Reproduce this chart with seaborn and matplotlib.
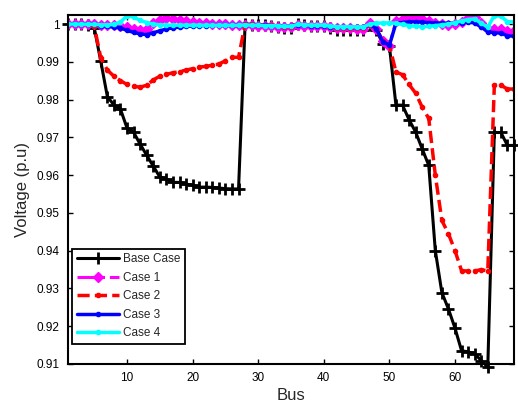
import numpy as np
import pandas as pd
import matplotlib
matplotlib.use("Agg")
import matplotlib.pyplot as plt
import seaborn as sns

# ---------------------------
# Data (bus voltages, p.u.)
# ---------------------------
bus = list(range(1, 70))

base_case = [
    1.0, 0.99997, 0.99993, 0.99984, 0.99902, 0.99009, 0.98079, 0.97858, 0.97745,
    0.97245, 0.97135, 0.96819, 0.96526, 0.96237, 0.95950, 0.95897, 0.95809, 0.95808,
    0.95761, 0.95732, 0.95683, 0.95683, 0.95676, 0.95659, 0.95642, 0.95635, 0.95633,
    0.99993, 0.99985, 0.99973, 0.99971, 0.99961, 0.99935, 0.99901, 0.99895,
    0.99992, 0.99975, 0.99959, 0.99954, 0.99954, 0.99884, 0.99855, 0.99851, 0.99850,
    0.99841, 0.99840,
    0.99979, 0.99854, 0.99470, 0.99415,
    0.97854, 0.97853, 0.97466, 0.97142, 0.96695, 0.96258,
    0.94003, 0.92891, 0.92458, 0.91950, 0.91353, 0.91319, 0.91275, 0.91089, 0.90919,
    0.97129, 0.97129, 0.96786, 0.96786,
]

case1 = [
    1.0, 1.0, 0.99998, 0.99995, 0.9999, 0.9998, 0.9997, 0.99965, 0.9996,
    0.9992, 0.9988, 0.9985, 0.9987,
    1.0003, 1.0012, 1.0015, 1.0013, 1.001, 1.0007, 1.0005,
    1.0003, 1.0002, 1.0001, 1.0, 0.9999, 0.9998, 0.9997,
    0.9998, 0.9997, 0.9996, 0.9996, 0.9995, 0.9993, 0.9991, 0.9991,
    0.9998, 0.9996, 0.9995, 0.9995, 0.9995, 0.9991, 0.9989, 0.9989, 0.9989, 0.9988, 0.9988,
    1.0002, 0.9988, 0.9955, 0.9942,
    1.0008, 1.0014, 1.0019, 1.0018, 1.0013, 1.0008, 1.0003, 1.0,
    0.9998, 0.9999, 1.0006, 1.0016, 1.0018, 1.0002, 0.9988,
    0.9986, 0.9986, 0.9982, 0.9982,
]

case2 = [
    1.0, 0.99999, 0.99998, 0.99996, 0.9995,
    0.991, 0.9878, 0.9862, 0.985, 0.984, 0.9835, 0.9833, 0.9838, 0.9852, 0.9862,
    0.9867, 0.9871, 0.9874, 0.9878, 0.9882, 0.9886, 0.9888, 0.9891, 0.9894, 0.9903,
    0.9912, 0.9912,
    0.99995, 0.9999, 0.9998, 0.9998, 0.9997, 0.9995, 0.9993, 0.9993,
    0.99995, 0.9998, 0.9997, 0.9997, 0.9997, 0.9992, 0.999, 0.999, 0.999, 0.9989, 0.9989,
    0.99985, 0.9988, 0.9955, 0.9944,
    0.9873, 0.9866, 0.984, 0.9817, 0.978, 0.975,
    0.960, 0.948, 0.9445, 0.940, 0.9347, 0.9346, 0.9346, 0.935, 0.9346,
    0.9838, 0.9838, 0.9828, 0.9828,
]

case3 = [
    1.0, 1.0, 0.99998, 0.99995, 0.9999, 0.9996, 0.9994, 0.9992, 0.999,
    0.9983, 0.9978, 0.9974, 0.9972,
    0.9977, 0.9982, 0.9987, 0.999, 0.9992, 0.9994, 0.9995,
    0.9996, 0.9996, 0.9997, 0.9997, 0.9997, 0.9998, 0.9998,
    0.99985, 0.9998, 0.9997, 0.9997, 0.9996, 0.9995, 0.9994, 0.9994,
    0.99985, 0.9997, 0.9996, 0.9996, 0.9996, 0.9993, 0.9992, 0.9992, 0.9992, 0.9991, 0.9991,
    0.99995, 0.9988, 0.9953, 0.9944,
    1.0002, 1.0004, 1.0006, 1.0006, 1.0005, 1.0004, 1.0003, 1.0002,
    1.0002, 1.0003, 1.0004, 1.0005, 1.0003, 0.9992, 0.998,
    0.9977, 0.9976, 0.9969, 0.9968,
]

case4 = [
    1.0, 1.0, 0.99998, 0.99995, 0.9999, 0.9998, 0.9998, 0.9999, 1.0005,
    1.0022, 1.0018, 1.001, 1.0004,
    1.0, 0.9998, 0.9997, 0.9997, 0.9997, 0.9997, 0.9997,
    0.9997, 0.9997, 0.9997, 0.9997, 0.9997, 0.9997, 0.9997,
    0.9998, 0.9997, 0.9997, 0.9996, 0.9996, 0.9995, 0.9994, 0.9994,
    0.9999, 0.9998, 0.9997, 0.9997, 0.9997, 0.9994, 0.9993, 0.9993, 0.9993, 0.9992, 0.9992,
    1.0, 1.0002, 1.0003, 1.0003,
    1.0002, 0.9999, 0.9996, 0.9994, 0.9993, 0.9994, 0.9996, 0.9998,
    1.0, 1.0004, 1.0008, 1.0012, 1.0014, 1.0002, 0.9992,
    1.0022, 1.0021, 1.0006, 1.0006,
]

x_ticks = [10, 20, 30, 40, 50, 60]
y_ticks = [0.91, 0.92, 0.93, 0.94, 0.95, 0.96, 0.97, 0.98, 0.99, 1.0]
y_tick_labels = ["0.91", "0.92", "0.93", "0.94", "0.95", "0.96", "0.97", "0.98", "0.99", "1"]

# ---------------------------
# Style
# ---------------------------
sns.set_style("ticks")
plt.rcParams["font.family"] = ["Liberation Sans", "DejaVu Sans"]
plt.rcParams["xtick.direction"] = "in"
plt.rcParams["ytick.direction"] = "in"

fig = plt.figure(figsize=(5.18, 4.03), dpi=100)
ax = fig.add_axes([0.1313, 0.0968, 0.861, 0.866])

series = [
    ("Base Case", base_case, dict(color="black", linestyle="-", linewidth=2.2,
                                   marker="+", markersize=8.5, markeredgewidth=2.0)),
    ("Case 1", case1, dict(color="magenta", linestyle="-.", linewidth=2.2,
                           marker="D", markersize=5.5, markeredgewidth=1)),
    ("Case 2", case2, dict(color="red", linestyle=(0, (3.5, 1.5)), linewidth=2.5,
                           marker=".", markersize=6, markeredgewidth=1)),
    ("Case 3", case3, dict(color="blue", linestyle="-", linewidth=2.5,
                           marker=".", markersize=6, markeredgewidth=1)),
    ("Case 4", case4, dict(color="cyan", linestyle="-", linewidth=2.5,
                           marker=".", markersize=6, markeredgewidth=1)),
]

for name, vals, style in series:
    sns.lineplot(x=bus, y=vals, ax=ax, label=name, color=style["color"])
    line = ax.lines[-1]
    line.set(**style)
    # seaborn puts white edges on markers; use the line colour instead
    line.set_markeredgecolor(style["color"])
    line.set_markerfacecolor(style["color"])

# let the base-case marker at bus 65 hang over the bottom axis like the original
ax.lines[0].set_clip_on(False)

ax.set_xlim(1, 69)
ax.set_ylim(0.91, 1.0024)
ax.set_xticks(x_ticks)
ax.set_yticks(y_ticks)
ax.set_yticklabels(y_tick_labels)
ax.tick_params(axis="both", which="both", top=True, right=True, length=3.5,
               width=1, labelsize=8.5, pad=6, colors="black")
for s in ax.spines.values():
    s.set_linewidth(1.5)
    s.set_color("black")

ax.set_xlabel("Bus", fontsize=12, labelpad=3)
ax.set_ylabel("Voltage (p.u)", fontsize=12, labelpad=5)

leg = ax.legend(loc="lower left", bbox_to_anchor=(0.009, 0.057), borderaxespad=0,
                fontsize=8.5, frameon=True, fancybox=False, edgecolor="black",
                handlelength=3.6, labelspacing=0.55, borderpad=0.4, handletextpad=0.3)
leg.get_frame().set_linewidth(1.3)
leg.get_frame().set_alpha(1)

fig.savefig("out.png", dpi=100)
